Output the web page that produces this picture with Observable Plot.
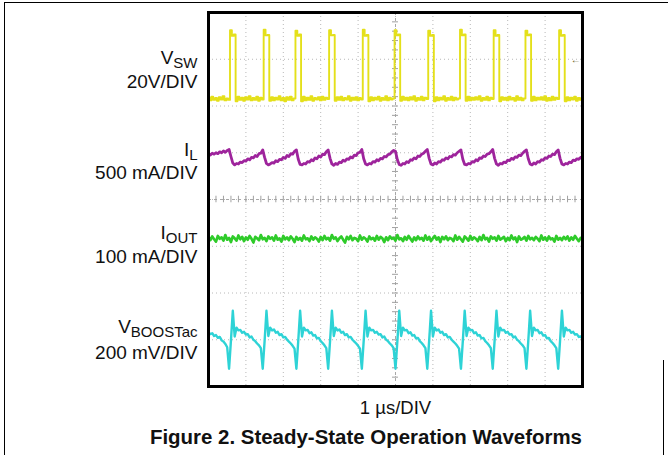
<!DOCTYPE html>
<html><head><meta charset="utf-8">
<script src="https://cdn.jsdelivr.net/npm/d3@7"></script>
<script src="https://cdn.jsdelivr.net/npm/@observablehq/plot@0.6"></script>
<style>
html,body{margin:0;padding:0;background:#fff;}
#wrap{position:relative;width:668px;height:455px;overflow:hidden;background:#fff;}
.bl{position:absolute;background:#000;}
#chart{position:absolute;left:0;top:0;}
</style></head><body>
<div id="wrap">
<div id="chart"></div>
<div class="bl" style="left:4px;top:2px;width:1.4px;height:453px"></div>
<div class="bl" style="left:4px;top:2px;width:664px;height:1.4px"></div>
<div class="bl" style="left:663px;top:360px;width:1.4px;height:95px"></div>
</div>
<script>
// sample clock of the scope trace (µs per sample); screen is 10 div x 1 µs
const dt = 0.05;

// trace values, in screen divisions (center line = 0)
const vswDiv = [2.18,2.12,2.20,2.13,2.17,2.11,2.19,2.14,2.21,2.12,2.16,2.13,
 3.62,3.50,3.53,
 2.10,2.20,2.13,2.18,2.11,2.19,2.14,2.21,2.12,2.17,2.13,2.20,2.11,2.18,2.14,
 3.63,3.51,3.52,
 2.11,2.19,2.12,2.18,2.14,2.21,2.12,2.17,2.10,2.19,2.13,2.20,2.12,2.16,
 3.61,3.50,3.53,
 2.10,2.20,2.12,2.18,2.13,2.21,2.11,2.17,2.14,2.19,2.12,2.20,2.13,2.18,2.15,
 3.62,3.51,3.52,
 2.11,2.19,2.13,2.20,2.12,2.17,2.14,2.21,2.11,2.18,2.13,2.19,2.12,2.17,2.14,
 3.63,3.50,3.52,
 2.10,2.19,2.12,2.18,2.14,2.20,2.11,2.17,2.13,2.21,2.12,2.18,2.14,2.16,
 3.62,3.51,3.53,
 2.11,2.20,2.13,2.18,2.12,2.19,2.14,2.21,2.11,2.17,2.13,2.20,2.12,2.18,2.15,
 3.61,3.50,3.52,
 2.10,2.19,2.12,2.18,2.14,2.21,2.11,2.17,2.13,2.20,2.12,2.18,2.14,2.16,
 3.63,3.51,3.53,
 2.11,2.20,2.12,2.18,2.13,2.19,2.14,2.21,2.11,2.17,2.13,2.20,2.12,2.18,2.15,
 3.62,3.50,3.52,
 2.10,2.19,2.13,2.18,2.12,2.20,2.14,2.17,2.11,2.21,2.13,2.18,2.12,2.16,
 3.61,3.51,3.53,
 2.11,2.20,2.12,2.18,2.14,2.19,2.13,2.21,2.11,2.17,2.12,2.20,2.13,2.18,2.15,
 3.62,3.50,3.52,
 2.10,2.19,2.12,2.18,2.14,2.20,2.11,2.17,2.13,2.18];

const ilDiv = [0.96,0.95,0.99,0.97,1.00,0.98,1.02,1.00,1.04,1.01,1.05,1.07,
 0.92,0.78,
 0.74,0.77,0.76,0.80,0.79,0.83,0.82,0.87,0.85,0.90,0.89,0.94,0.92,0.98,0.99,1.06,
 0.90,0.77,
 0.74,0.76,0.79,0.78,0.83,0.81,0.86,0.85,0.90,0.88,0.94,0.92,0.98,0.97,1.03,1.06,
 0.86,0.75,
 0.74,0.77,0.76,0.81,0.80,0.85,0.83,0.89,0.87,0.93,0.91,0.97,0.96,1.02,1.06,
 0.88,0.76,
 0.73,0.77,0.75,0.80,0.79,0.84,0.82,0.87,0.86,0.91,0.89,0.95,0.94,1.00,1.01,1.07,
 0.87,0.76,
 0.74,0.77,0.76,0.81,0.80,0.85,0.83,0.88,0.87,0.92,0.91,0.96,0.97,1.02,1.05,1.03,
 0.85,0.75,
 0.73,0.77,0.76,0.81,0.79,0.85,0.84,0.89,0.87,0.93,0.92,0.97,0.99,1.03,1.07,
 0.88,0.76,
 0.74,0.78,0.76,0.81,0.80,0.85,0.84,0.89,0.87,0.92,0.91,0.96,0.95,1.00,1.03,1.06,
 0.86,0.75,
 0.74,0.77,0.76,0.81,0.80,0.85,0.83,0.89,0.88,0.93,0.92,0.97,0.98,1.02,1.07,
 0.88,0.76,
 0.73,0.77,0.76,0.80,0.79,0.84,0.83,0.88,0.86,0.91,0.90,0.95,0.94,0.99,1.03,1.06,
 0.87,0.76,
 0.74,0.78,0.76,0.81,0.80,0.85,0.84,0.89,0.88,0.93,0.92,0.97,0.96,1.02,1.06,
 0.88,0.76,0.74,0.77,0.76,0.80,0.79,0.84,0.83,0.87,0.86,0.90,0.91];

const ioutDiv = [-0.80,-0.87,-0.79,-0.85,-0.90,-0.78,-0.84,-0.81,-0.88,-0.76,
 -0.86,-0.82,-0.91,-0.79,-0.83,-0.88,-0.77,-0.85,-0.80,-0.89,
 -0.81,-0.86,-0.78,-0.84,-0.92,-0.80,-0.83,-0.87,-0.76,-0.85,
 -0.82,-0.89,-0.79,-0.84,-0.81,-0.88,-0.77,-0.86,-0.83,-0.90,
 -0.78,-0.85,-0.81,-0.87,-0.79,-0.84,-0.91,-0.80,-0.86,-0.82,
 -0.88,-0.77,-0.85,-0.83,-0.89,-0.79,-0.86,-0.81,-0.84,-0.90,
 -0.80,-0.87,-0.78,-0.85,-0.82,-0.88,-0.76,-0.84,-0.81,-0.89,
 -0.83,-0.79,-0.86,-0.92,-0.80,-0.85,-0.78,-0.87,-0.82,-0.84,
 -0.89,-0.77,-0.86,-0.81,-0.84,-0.90,-0.79,-0.85,-0.82,-0.88,
 -0.78,-0.86,-0.80,-0.83,-0.91,-0.81,-0.87,-0.79,-0.84,-0.82,
 -0.88,-0.76,-0.85,-0.83,-0.89,-0.80,-0.86,-0.78,-0.84,-0.90,
 -0.81,-0.87,-0.79,-0.85,-0.82,-0.88,-0.77,-0.86,-0.80,-0.89,
 -0.83,-0.78,-0.86,-0.81,-0.91,-0.80,-0.85,-0.79,-0.87,-0.82,
 -0.84,-0.89,-0.77,-0.86,-0.80,-0.85,-0.90,-0.79,-0.83,-0.88,
 -0.78,-0.86,-0.81,-0.84,-0.89,-0.80,-0.87,-0.76,-0.85,-0.82,
 -0.90,-0.79,-0.84,-0.81,-0.88,-0.78,-0.86,-0.83,-0.80,-0.89,
 -0.82,-0.87,-0.77,-0.85,-0.81,-0.91,-0.79,-0.86,-0.84,-0.80,
 -0.88,-0.78,-0.85,-0.82,-0.87,-0.80,-0.84,-0.89,-0.77,-0.86,
 -0.81,-0.88,-0.79,-0.85,-0.83,-0.90,-0.78,-0.86,-0.82,-0.87,
 -0.80,-0.85,-0.79,-0.88,-0.81,-0.86,-0.78,-0.84,-0.89,-0.82,
 -0.84];

const vboostDiv = [-2.84,-2.88,-2.86,-2.92,-2.90,-2.96,-2.94,-3.01,-3.04,-3.09,-3.16,
 -3.62,-3.02,-2.38,-2.93,-2.74,-2.80,
 -2.79,-2.85,-2.83,-2.89,-2.88,-2.95,-2.93,-3.00,-3.03,-3.08,-3.12,-3.18,
 -3.62,-3.03,-2.38,-2.92,-2.74,-2.80,
 -2.78,-2.85,-2.83,-2.90,-2.88,-2.95,-2.94,-3.00,-3.04,-3.08,-3.13,-3.19,
 -3.62,-3.02,-2.38,-2.93,-2.74,-2.80,
 -2.79,-2.86,-2.84,-2.91,-2.90,-2.97,-2.96,-3.03,-3.07,-3.12,-3.18,
 -3.62,-3.03,-2.38,-2.92,-2.74,-2.80,
 -2.78,-2.85,-2.83,-2.90,-2.88,-2.95,-2.94,-3.00,-3.04,-3.08,-3.13,-3.19,
 -3.62,-3.02,-2.38,-2.93,-2.74,-2.80,
 -2.79,-2.85,-2.83,-2.89,-2.88,-2.95,-2.93,-3.00,-3.03,-3.08,-3.12,-3.18,
 -3.62,-3.03,-2.38,-2.92,-2.74,-2.80,
 -2.79,-2.86,-2.84,-2.91,-2.90,-2.97,-2.96,-3.03,-3.07,-3.12,-3.18,
 -3.62,-3.02,-2.38,-2.93,-2.74,-2.80,
 -2.78,-2.85,-2.83,-2.90,-2.88,-2.95,-2.94,-3.00,-3.04,-3.08,-3.13,-3.19,
 -3.62,-3.03,-2.38,-2.92,-2.74,-2.80,
 -2.79,-2.86,-2.84,-2.91,-2.90,-2.97,-2.96,-3.03,-3.07,-3.12,-3.18,
 -3.62,-3.02,-2.38,-2.93,-2.74,-2.80,
 -2.79,-2.85,-2.83,-2.89,-2.88,-2.95,-2.93,-3.00,-3.03,-3.08,-3.12,-3.18,
 -3.62,-3.03,-2.38,-2.92,-2.74,-2.80,
 -2.79,-2.86,-2.84,-2.91,-2.90,-2.97,-2.96,-3.03,-3.07,-3.12,-3.18,
 -3.62,-3.02,-2.38,-2.93,-2.74,-2.80,
 -2.79,-2.85,-2.83,-2.89,-2.88,-2.94,-2.93,-2.98];

// text
const channelNames = ["V_SW", "I_L", "I_OUT", "V_BOOSTac"];
const channelScales = ["20V/DIV", "500 mA/DIV", "100 mA/DIV", "200 mV/DIV"];
const timeLabel = "1 µs/DIV";
const figureTitle = "Figure 2. Steady-State Operation Waveforms";

// graticule
const gridX = d3.range(0, 11);
const gridY = d3.range(-4, 5);
const minorX = d3.range(0, 10.001, 0.2);
const minorY = d3.range(-4, 4.001, 0.2);

// layout (in screen divisions / µs)
const nameY = [2.90, 0.94, -0.84, -2.85];
const scaleY = [2.39, 0.44, -1.35, -3.41];

const tOf = (d, i) => i * dt;
const font = "'Liberation Sans', Arial, Helvetica, sans-serif";

const plot = Plot.plot({
  width: 668, height: 455,
  marginLeft: 208, marginRight: 86, marginTop: 12, marginBottom: 69,
  style: {fontFamily: font, background: "transparent", overflow: "visible"},
  x: {domain: [0, 10], axis: null},
  y: {domain: [-4, 4], axis: null},
  marks: [
    Plot.ruleX(gridX, {stroke: "#b8b8b8", strokeDasharray: "1,3", strokeWidth: 1}),
    Plot.ruleY(gridY, {stroke: "#b8b8b8", strokeDasharray: "1,3", strokeWidth: 1}),
    Plot.ruleY([0], {stroke: "#a8a8a8", strokeDasharray: "3,3", strokeWidth: 1}),
    Plot.ruleX([5], {stroke: "#a8a8a8", strokeDasharray: "3,3", strokeWidth: 1}),
    Plot.ruleX(minorX, {y1: -0.07, y2: 0.07, stroke: "#a0a0a0", strokeWidth: 1}),
    Plot.ruleY(minorY, {x1: 4.92, x2: 5.08, stroke: "#a0a0a0", strokeWidth: 1}),
    Plot.line(vswDiv, {x: tOf, y: d => d, curve: "step", stroke: "#e4e01a", strokeWidth: 1.9}),
    Plot.line(ilDiv, {x: tOf, y: d => d, stroke: "#9e249c", strokeWidth: 2.8}),
    Plot.line(ioutDiv, {x: tOf, y: d => d, stroke: "#2fcb2a", strokeWidth: 2.7}),
    Plot.line(vboostDiv, {x: tOf, y: d => d, stroke: "#2ed3d6", strokeWidth: 2.4}),
    Plot.text(["←"], {x: 9.82, y: 2.99, fill: "#6b6020", fontSize: 10}),
    Plot.frame({stroke: "#000", strokeWidth: 3}),
    Plot.text(channelNames, {x: 0, y: (d, i) => nameY[i], text: d => d, textAnchor: "end", lineAnchor: "bottom", dx: -11, fontSize: 19, fill: "#111"}),
    Plot.text(channelScales, {x: 0, y: (d, i) => scaleY[i], text: d => d, textAnchor: "end", lineAnchor: "bottom", dx: -11, fontSize: 19, fill: "#111"}),
    Plot.text([timeLabel], {x: 5, y: -4.58, text: d => d, lineAnchor: "bottom", fontSize: 18.5, fill: "#111"}),
    Plot.text([figureTitle], {x: 4.21, y: -5.22, text: d => d, lineAnchor: "bottom", fontSize: 20, fontWeight: "bold", fill: "#111"})
  ]
});

plot.querySelectorAll("text").forEach(el => {
  const s = el.textContent;
  if (s === figureTitle) {
    el.setAttribute("textLength", "432");
    el.setAttribute("lengthAdjust", "spacingAndGlyphs");
    return;
  }
  const k = s.indexOf("_");
  if (k < 0) return;
  // subscript for channel names
  el.textContent = s.slice(0, k);
  const ts = document.createElementNS("http://www.w3.org/2000/svg", "tspan");
  ts.setAttribute("dy", "4");
  ts.setAttribute("font-size", "15");
  ts.textContent = s.slice(k + 1);
  el.appendChild(ts);
});
document.getElementById("chart").appendChild(plot);
</script>
</body></html>
